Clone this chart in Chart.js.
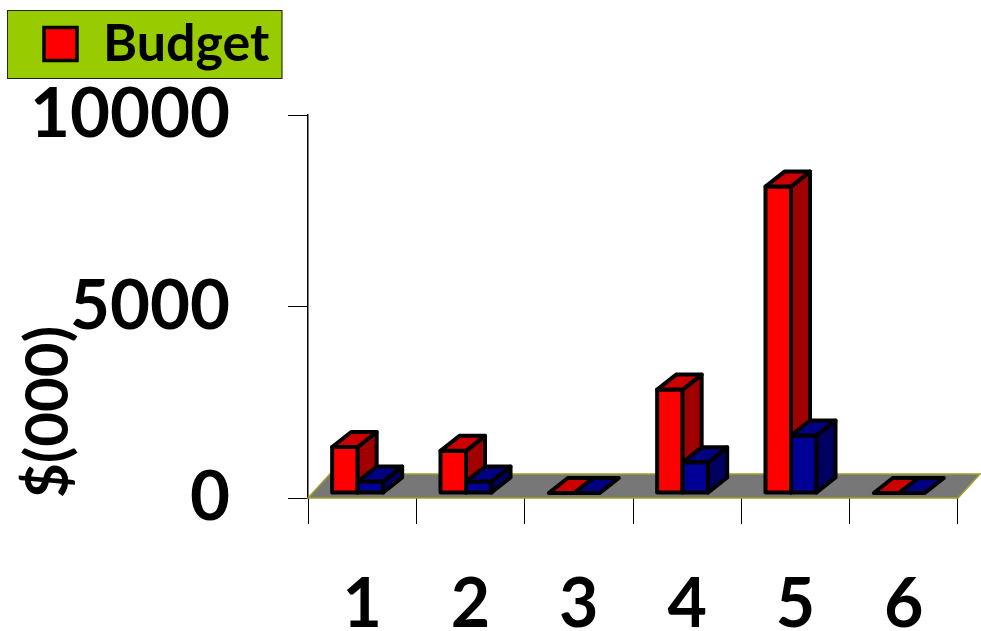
<!DOCTYPE html>
<html>
<head>
<meta charset="utf-8">
<title>Budget</title>
<script src="https://cdn.jsdelivr.net/npm/chart.js@4.4.1/dist/chart.umd.min.js"></script>
<style>
    html, body { margin: 0; padding: 0; background: #ffffff; }
    #budgetChart { display: block; }
</style>
</head>
<body>
<canvas id="budgetChart" width="981" height="631"></canvas>
<script>
// chart data
const categories = ['1', '2', '3', '4', '5', '6'];
const budgetValues = [1200, 1100, 0, 2700, 8000, 0];
const actualValues = [300, 300, 0, 800, 1500, 0];
const yTicks = [0, 5000, 10000];

// 3d look
const BAR_DEPTH_X = 19;
const BAR_DEPTH_Y = -15;
const BAR_SHIFT_X = -4.5;
const BAR_SHIFT_Y = -5;
const FLOOR_DEPTH_X = 22;
const FLOOR_DEPTH_Y = -24;
const LEGEND_TOP = 8;

const faceColors = [
    { front: '#ff0000', top: '#cc0000', side: '#a00000' },
    { front: '#000096', top: '#000080', side: '#000060' }
];

const FONT = 'Lato';

// draws the grey floor and the bars as boxes, using the bar elements the library laid out
const bar3dPlugin = {
    id: 'bar3d',
    beforeDatasetsDraw(chart) {
        const { ctx, chartArea, scales } = chart;
        const y0 = scales.y.getPixelForValue(0);

        ctx.save();
        ctx.beginPath();
        ctx.moveTo(chartArea.left, y0);
        ctx.lineTo(chartArea.right, y0);
        ctx.lineTo(chartArea.right + FLOOR_DEPTH_X, y0 + FLOOR_DEPTH_Y);
        ctx.lineTo(chartArea.left + FLOOR_DEPTH_X, y0 + FLOOR_DEPTH_Y);
        ctx.closePath();
        ctx.fillStyle = '#777777';
        ctx.fill();
        ctx.strokeStyle = '#a0a020';
        ctx.lineWidth = 1.5;
        ctx.stroke();

        ctx.strokeStyle = '#000000';
        ctx.lineWidth = 4;
        ctx.lineJoin = 'round';

        const poly = (pts, fill) => {
            ctx.beginPath();
            ctx.moveTo(pts[0][0], pts[0][1]);
            for (let k = 1; k < pts.length; k++) ctx.lineTo(pts[k][0], pts[k][1]);
            ctx.closePath();
            ctx.fillStyle = fill;
            ctx.fill();
            ctx.stroke();
        };

        for (let j = 0; j < categories.length; j++) {
            chart.data.datasets.forEach((ds, i) => {
                const el = chart.getDatasetMeta(i).data[j];
                if (!el) return;
                const c = faceColors[i];
                const l = el.x - el.width / 2 + BAR_SHIFT_X;
                const r = el.x + el.width / 2 + BAR_SHIFT_X;
                const t = el.y + BAR_SHIFT_Y;
                const b = el.base + BAR_SHIFT_Y;
                const dx = BAR_DEPTH_X, dy = BAR_DEPTH_Y;

                if (b - t > 0.5) {
                    poly([[l, t], [r, t], [r, b], [l, b]], c.front);
                    poly([[r, t], [r + dx, t + dy], [r + dx, b + dy], [r, b]], c.side);
                }
                poly([[l, t], [l + dx, t + dy], [r + dx, t + dy], [r, t]], c.top);
            });
        }
        ctx.restore();
        return false;
    }
};

// keep the legend at the very top, the y scale padding would push it down
const legendTop = {
    id: 'legendTop',
    afterLayout(chart) {
        const lg = chart.legend;
        if (!lg) return;
        const h = lg.bottom - lg.top;
        lg.top = LEGEND_TOP;
        lg.bottom = LEGEND_TOP + h;
    }
};

// green box behind the legend
const legendBackground = {
    id: 'legendBackground',
    beforeDraw(chart) {
        const legend = chart.legend;
        if (!legend || !legend.legendHitBoxes || !legend.legendHitBoxes.length) return;
        const hit = legend.legendHitBoxes[0];
        const { ctx } = chart;
        const x1 = hit.left - 37;
        const y1 = hit.top - 8;
        const x2 = hit.left + hit.width + 13;
        const y2 = hit.top + hit.height + 9;
        ctx.save();
        ctx.fillStyle = '#99cc00';
        ctx.fillRect(x1, y1, x2 - x1, y2 - y1);
        ctx.strokeStyle = '#222222';
        ctx.lineWidth = 1;
        ctx.strokeRect(x1 + 0.5, y1 + 0.5, x2 - x1 - 1, y2 - y1 - 1);
        ctx.restore();
    }
};

const chart = new Chart(document.getElementById('budgetChart'), {
    type: 'bar',
    data: {
        labels: categories,
        datasets: [
            {
                label: 'Budget',
                data: budgetValues,
                backgroundColor: faceColors[0].front,
                borderColor: '#000000',
                borderWidth: 3.5
            },
            {
                label: 'Actual',
                data: actualValues,
                backgroundColor: faceColors[1].front,
                borderColor: '#000000',
                borderWidth: 3.5
            }
        ]
    },
    options: {
        responsive: false,
        animation: false,
        devicePixelRatio: 1,
        categoryPercentage: 0.471,
        barPercentage: 1,
        layout: {
            padding: { left: 34, top: LEGEND_TOP, right: 23, bottom: 0 }
        },
        plugins: {
            legend: {
                position: 'top',
                align: 'start',
                labels: {
                    filter: item => item.datasetIndex === 0,
                    boxWidth: 33,
                    boxHeight: 33,
                    padding: 10,
                    color: '#000000',
                    font: { family: FONT, size: 52, weight: 'bold' }
                }
            },
            tooltip: { enabled: false }
        },
        scales: {
            x: {
                grid: {
                    display: true,
                    drawOnChartArea: false,
                    drawTicks: true,
                    tickLength: 26,
                    color: '#000000',
                    lineWidth: 1
                },
                border: { display: false },
                ticks: {
                    color: '#000000',
                    padding: 40,
                    font: { family: FONT, size: 68, weight: 'bold' }
                },
                afterFit(scale) {
                    scale.height = 133;
                }
            },
            y: {
                min: 0,
                max: 10000,
                afterBuildTicks(scale) {
                    scale.ticks = yTicks.map(v => ({ value: v }));
                },
                grid: {
                    display: true,
                    drawOnChartArea: false,
                    drawTicks: true,
                    tickLength: 20,
                    color: '#000000',
                    lineWidth: 1
                },
                border: { display: true, color: '#000000', width: 1.5 },
                ticks: {
                    color: '#000000',
                    padding: 58,
                    callback: value => String(value),
                    font: { family: FONT, size: 69, weight: 'bold' }
                },
                title: {
                    display: true,
                    text: '$(000)',
                    align: 'start',
                    color: '#000000',
                    padding: { top: -15, bottom: 0 },
                    font: { family: FONT, size: 60, weight: 'bold', lineHeight: 1 }
                },
                afterFit(scale) {
                    scale.width = 274;
                    scale.paddingTop = 115;
                    scale.paddingBottom = 0;
                }
            }
        }
    },
    plugins: [bar3dPlugin, legendTop, legendBackground]
});
</script>
</body>
</html>
